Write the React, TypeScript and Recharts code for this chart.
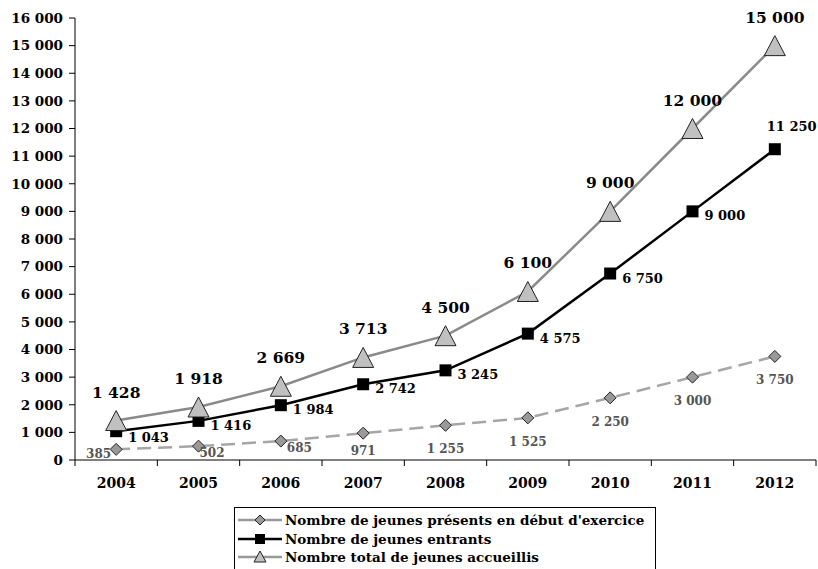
import { LineChart, Line, XAxis, YAxis, LabelList, Legend } from 'recharts';

const years = ['2004', '2005', '2006', '2007', '2008', '2009', '2010', '2011', '2012'];
const presents = [385, 502, 685, 971, 1255, 1525, 2250, 3000, 3750];
const entrants = [1043, 1416, 1984, 2742, 3245, 4575, 6750, 9000, 11250];
const totals = [1428, 1918, 2669, 3713, 4500, 6100, 9000, 12000, 15000];
const yTicks = [0, 1000, 2000, 3000, 4000, 5000, 6000, 7000, 8000, 9000, 10000, 11000, 12000, 13000, 14000, 15000, 16000];
const seriesNames = [
  "Nombre de jeunes présents en début d'exercice",
  'Nombre de jeunes entrants',
  'Nombre total de jeunes accueillis',
];

const data = years.map((year, i) => ({
  year,
  presents: presents[i],
  entrants: entrants[i],
  totals: totals[i],
}));

const FONT = '"DejaVu Serif", Georgia, serif';
const W = 818;
const H = 569;
const LEFT = 75;
const RIGHT = 2;
const HALF_BAND = (W - LEFT - RIGHT) / years.length / 2;

const fmt = (n: number) => String(n).replace(/\B(?=(\d{3})+(?!\d))/g, ' ');

const Triangle = (p: any) => {
  const { cx, cy, index } = p;
  if (cx == null || cy == null) return <g key={`t-${index}`} />;
  return (
    <polygon
      key={`t-${index}`}
      points={`${cx},${cy - 10} ${cx - 10.5},${cy + 10} ${cx + 10.5},${cy + 10}`}
      fill="#c0c0c0"
      stroke="#222"
      strokeWidth={1}
    />
  );
};

const Square = (p: any) => {
  const { cx, cy, index } = p;
  if (cx == null || cy == null) return <g key={`s-${index}`} />;
  return <rect key={`s-${index}`} x={cx - 6} y={cy - 6} width={12} height={12} fill="#000" />;
};

const Diamond = (p: any) => {
  const { cx, cy, index } = p;
  if (cx == null || cy == null) return <g key={`d-${index}`} />;
  return (
    <polygon
      key={`d-${index}`}
      points={`${cx},${cy - 6} ${cx + 6},${cy} ${cx},${cy + 6} ${cx - 6},${cy}`}
      fill="#999"
      stroke="#222"
      strokeWidth={1}
    />
  );
};

const TotalLabel = (p: any) => {
  const { x, y, value } = p;
  return (
    <text x={x} y={y - 23} textAnchor="middle" fontFamily={FONT} fontWeight="bold" fontSize={15.5} fill="#000">
      {fmt(value)}
    </text>
  );
};

const EntrantLabel = (p: any) => {
  const { x, y, value, index } = p;
  const last = index === entrants.length - 1;
  return (
    <text
      x={last ? x - 8 : x + 12}
      y={last ? y - 18 : y + (index === 0 ? 11 : 9)}
      textAnchor="start"
      fontFamily={FONT}
      fontWeight="bold"
      fontSize={13}
      fill="#000"
    >
      {fmt(value)}
    </text>
  );
};

const PresentLabel = (p: any) => {
  const { x, y, value, index } = p;
  let tx = x;
  let ty = y + 28;
  let anchor: 'start' | 'middle' | 'end' = 'middle';
  if (index === 0) {
    tx = x - 5;
    ty = y + 9;
    anchor = 'end';
  } else if (index === 1) {
    tx = x + 1;
    ty = y + 11;
    anchor = 'start';
  } else if (index === 2) {
    tx = x + 6;
    ty = y + 11;
    anchor = 'start';
  } else if (index === 3) {
    ty = y + 22;
  }
  return (
    <text x={tx} y={ty} textAnchor={anchor} fontFamily={FONT} fontWeight="bold" fontSize={12} fill="#555">
      {fmt(value)}
    </text>
  );
};

const XTick = (p: any) => {
  const { x, y, payload, index } = p;
  return (
    <g>
      <line x1={x - HALF_BAND} x2={x - HALF_BAND} y1={y} y2={y + 6} stroke="#000" strokeWidth={1} />
      {index === years.length - 1 && (
        <line x1={x + HALF_BAND} x2={x + HALF_BAND} y1={y} y2={y + 6} stroke="#000" strokeWidth={1} />
      )}
      <text x={x} y={y + 28} textAnchor="middle" fontFamily={FONT} fontWeight="bold" fontSize={14} fill="#000">
        {payload.value}
      </text>
    </g>
  );
};

const LegendBox = () => {
  const icons = [
    { color: '#999', marker: 'diamond' },
    { color: '#000', marker: 'square' },
    { color: '#999', marker: 'triangle' },
  ];
  return (
    <div
      style={{
        width: 422,
        height: 70,
        border: '1px solid #000',
        boxSizing: 'border-box',
        background: '#fff',
        paddingTop: 3,
      }}
    >
      {seriesNames.map((name, i) => (
        <div key={name} style={{ display: 'flex', alignItems: 'center', height: 18.5 }}>
          <svg width={47} height={18} style={{ marginLeft: 3, flexShrink: 0 }}>
            <line x1={0} x2={44} y1={9} y2={9} stroke={icons[i].color} strokeWidth={2.5} />
            {icons[i].marker === 'diamond' && (
              <polygon points="22,4 27,9 22,14 17,9" fill="#999" stroke="#222" strokeWidth={1} />
            )}
            {icons[i].marker === 'square' && <rect x={17} y={4} width={10} height={10} fill="#000" />}
            {icons[i].marker === 'triangle' && (
              <polygon points="22,3 28,14 16,14" fill="#c0c0c0" stroke="#222" strokeWidth={1} />
            )}
          </svg>
          <span style={{ fontFamily: FONT, fontWeight: 'bold', fontSize: 13.5, color: '#000', whiteSpace: 'nowrap' }}>
            {name}
          </span>
        </div>
      ))}
    </div>
  );
};

export default function App() {
  return (
    <div style={{ position: 'absolute', left: 0, top: 0, width: W, height: H, overflow: 'hidden', background: '#fff' }}>
      <LineChart width={W} height={H} data={data} margin={{ top: 18, right: RIGHT, left: 0, bottom: 69 }}>
        <XAxis
          dataKey="year"
          height={40}
          padding={{ left: HALF_BAND, right: HALF_BAND }}
          tickLine={false}
          tickSize={0}
          tickMargin={0}
          tick={<XTick />}
          axisLine={{ stroke: '#000', strokeWidth: 1 }}
          interval={0}
        />
        <YAxis
          width={LEFT}
          domain={[0, 16000]}
          ticks={yTicks}
          interval={0}
          tickFormatter={fmt}
          tickSize={6}
          tickMargin={6}
          axisLine={{ stroke: '#000', strokeWidth: 1 }}
          tickLine={{ stroke: '#000', strokeWidth: 1 }}
          tick={{ fontFamily: FONT, fontWeight: 'bold', fontSize: 13.5, fill: '#000' }}
        />
        <Legend
          layout="vertical"
          align="center"
          verticalAlign="middle"
          wrapperStyle={{ left: 234, top: 507, width: 422 }}
          content={() => <LegendBox />}
        />
        <Line
          dataKey="presents"
          name={seriesNames[0]}
          stroke="#a6a6a6"
          strokeWidth={2.5}
          strokeDasharray="14 7"
          dot={Diamond}
          activeDot={false}
          isAnimationActive={false}
        >
          <LabelList dataKey="presents" content={<PresentLabel />} />
        </Line>
        <Line
          dataKey="entrants"
          name={seriesNames[1]}
          stroke="#000"
          strokeWidth={2.5}
          dot={Square}
          activeDot={false}
          isAnimationActive={false}
        >
          <LabelList dataKey="entrants" content={<EntrantLabel />} />
        </Line>
        <Line
          dataKey="totals"
          name={seriesNames[2]}
          stroke="#8a8a8a"
          strokeWidth={2.5}
          dot={Triangle}
          activeDot={false}
          isAnimationActive={false}
        >
          <LabelList dataKey="totals" content={<TotalLabel />} />
        </Line>
      </LineChart>
    </div>
  );
}
